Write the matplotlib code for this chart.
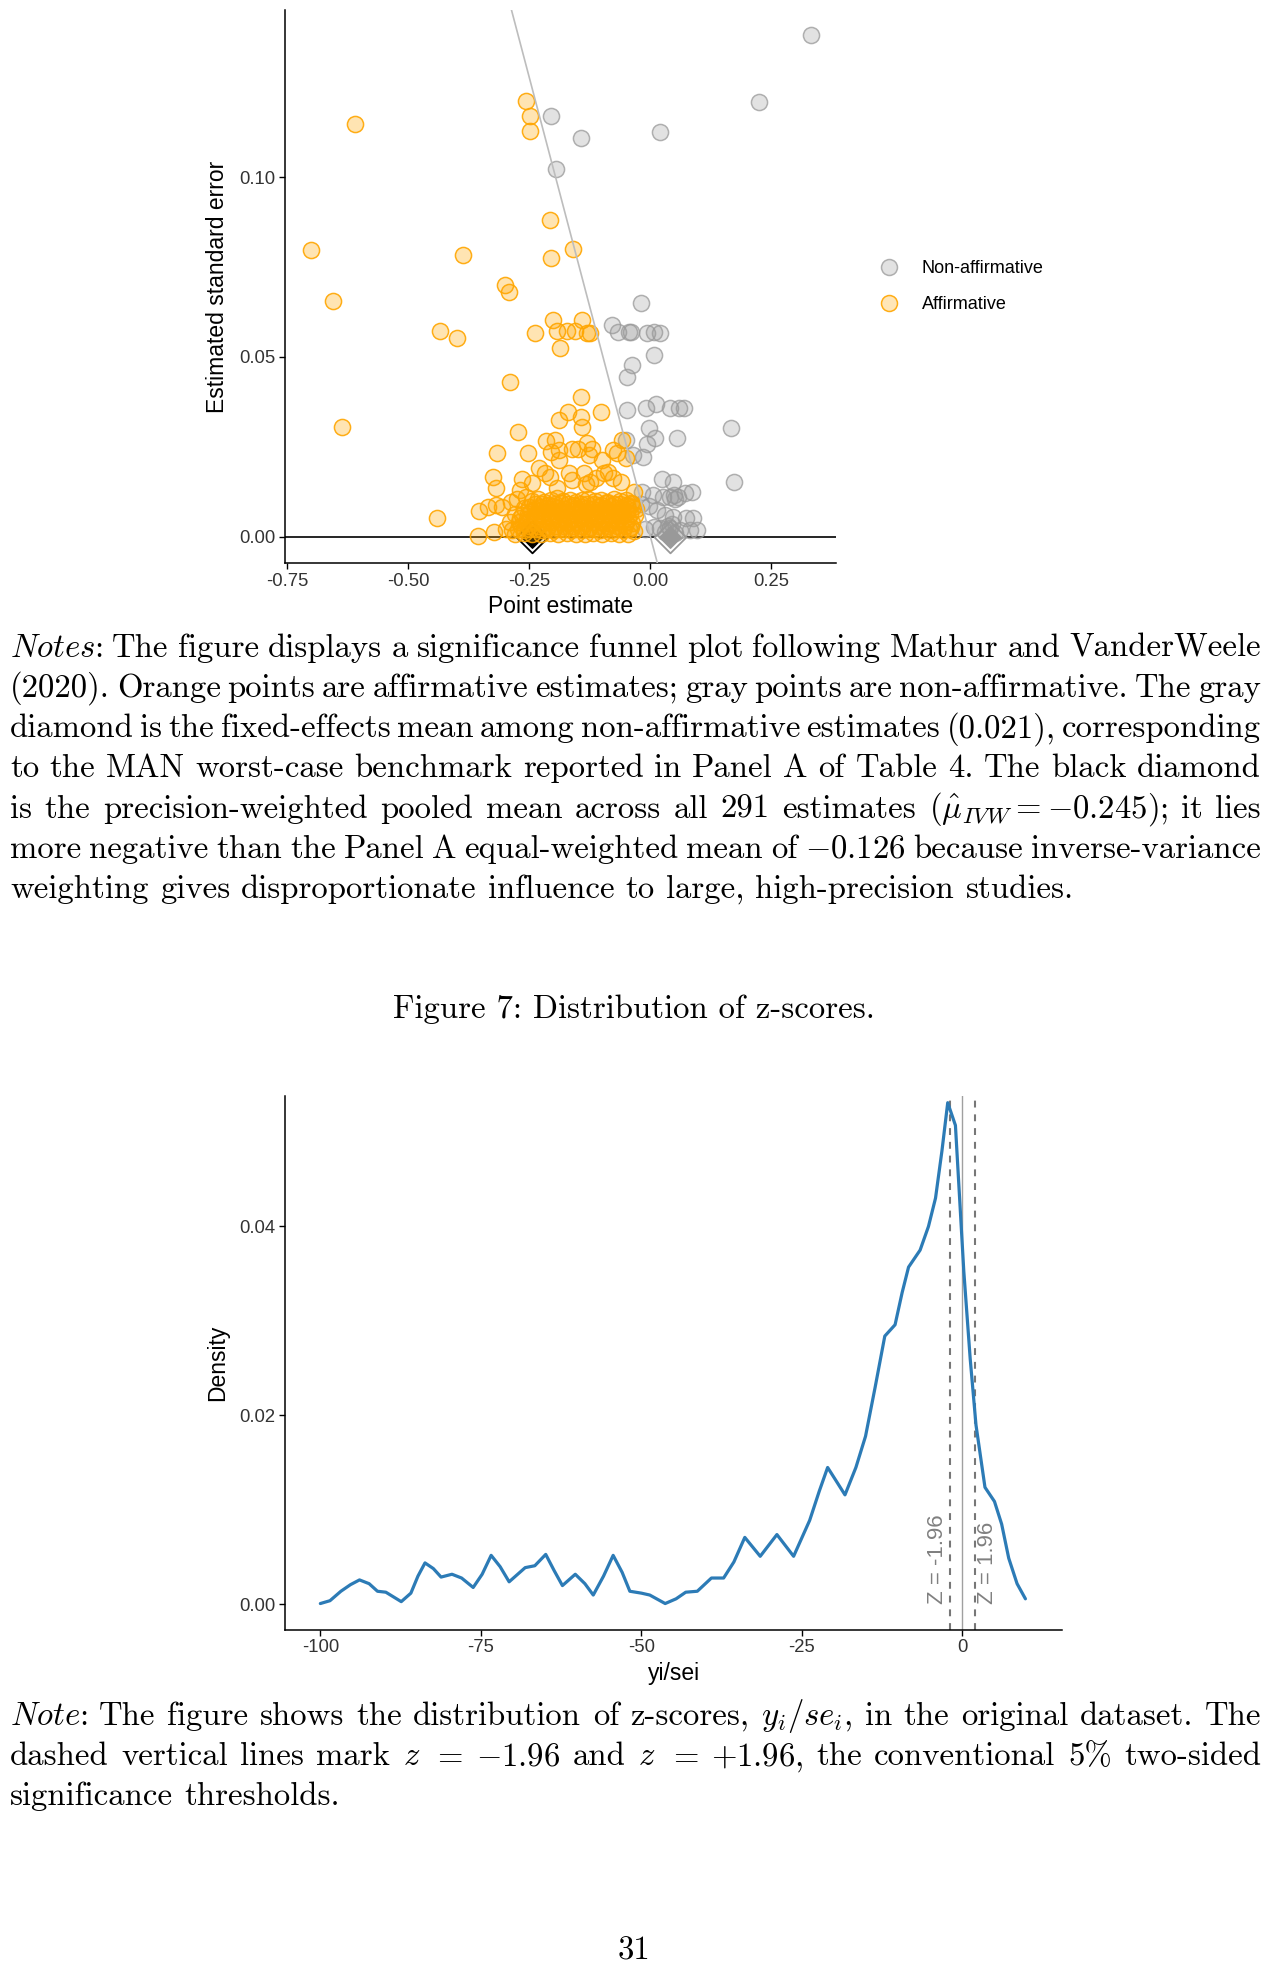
"""Page 31: significance funnel plot (top) and distribution of z-scores (bottom)."""
import numpy as np
import matplotlib
matplotlib.use("Agg")
import matplotlib.pyplot as plt
from matplotlib.lines import Line2D
from matplotlib.ticker import FixedLocator, FormatStrFormatter
from matplotlib.transforms import IdentityTransform

plt.rcParams["font.family"] = ["Liberation Sans", "DejaVu Sans"]
plt.rcParams["mathtext.fontset"] = "cm"
plt.rcParams["axes.unicode_minus"] = False

W, H = 1269, 1971

# ---- funnel plot: affirmative (orange) and non-affirmative (gray) estimates
aff_x = [-0.611, -0.702, -0.655, -0.638, -0.388, -0.434, -0.400, -0.440,
         -0.257, -0.249, -0.249, -0.208, -0.160, -0.206, -0.300, -0.293,
         -0.201, -0.141, -0.239, -0.192, -0.172, -0.155, -0.130, -0.125, -0.187,
         -0.290, -0.143, -0.171, -0.102, -0.188, -0.144, -0.141, -0.274, -0.317,
         -0.058, -0.215, -0.198, -0.205, -0.188, -0.252, -0.163, -0.150, -0.131, -0.120,
         -0.126, -0.099, -0.078, -0.068, -0.050, -0.188, -0.230, -0.217, -0.207,
         -0.168, -0.137, -0.161, -0.134, -0.096, -0.078, -0.061, -0.087, -0.113,
         -0.326, -0.320, -0.265, -0.270, -0.193, -0.125, -0.033, -0.245,
         -0.354, -0.336, -0.320, -0.306, -0.289, -0.275, -0.258,
         -0.245, -0.232, -0.219, -0.206, -0.193, -0.180, -0.167, -0.154, -0.141,
         -0.128, -0.115, -0.102, -0.089, -0.076, -0.063, -0.050, -0.040,
         -0.262, -0.250, -0.238, -0.226, -0.214, -0.202, -0.190, -0.178, -0.166,
         -0.154, -0.142, -0.130, -0.118, -0.106, -0.094, -0.082, -0.070, -0.058,
         -0.046, -0.036, -0.030,
         -0.280, -0.266, -0.252, -0.238, -0.224, -0.210, -0.196, -0.182, -0.168,
         -0.154, -0.140, -0.126, -0.112, -0.098, -0.084, -0.070, -0.056, -0.042, -0.032,
         -0.290, -0.272, -0.255, -0.238, -0.221, -0.204, -0.187, -0.170, -0.153,
         -0.136, -0.119, -0.102, -0.085, -0.068, -0.051, -0.038,
         -0.356, -0.323, -0.298, -0.285, -0.273, -0.261, -0.249, -0.237, -0.225,
         -0.213, -0.201, -0.189, -0.177, -0.165, -0.153, -0.141, -0.129, -0.117,
         -0.105, -0.093, -0.081, -0.069, -0.057, -0.045, -0.033,
         -0.280, -0.262, -0.244, -0.226, -0.208, -0.190, -0.172, -0.154, -0.136,
         -0.118, -0.100, -0.082, -0.064, -0.046,
         -0.238, -0.224, -0.211, -0.197, -0.184, -0.170, -0.157, -0.143, -0.130,
         -0.116, -0.103, -0.089, -0.076, -0.062, -0.049, -0.037,
         -0.246, -0.231, -0.217, -0.203, -0.188, -0.174, -0.160, -0.146, -0.132,
         -0.118, -0.104, -0.090, -0.076, -0.062, -0.048,
         -0.270, -0.254, -0.238, -0.222, -0.206, -0.190, -0.174, -0.158, -0.142,
         -0.126, -0.110, -0.094, -0.078, -0.062, -0.046,
         -0.268, -0.250, -0.232, -0.214, -0.196, -0.178, -0.160, -0.142, -0.124,
         -0.106, -0.088, -0.070, -0.052, -0.040]
aff_se = [0.1147, 0.0797, 0.0655, 0.0305, 0.0782, 0.0571, 0.0552, 0.0051,
          0.1212, 0.1171, 0.1127, 0.0880, 0.0800, 0.0774, 0.0701, 0.0679,
          0.0603, 0.0603, 0.0567, 0.0571, 0.0571, 0.0571, 0.0566, 0.0566, 0.0525,
          0.0431, 0.0388, 0.0346, 0.0346, 0.0324, 0.0333, 0.0305, 0.0292, 0.0232,
          0.0269, 0.0265, 0.0269, 0.0236, 0.0241, 0.0232, 0.0245, 0.0245, 0.0260, 0.0245,
          0.0228, 0.0213, 0.0241, 0.0232, 0.0218, 0.0213, 0.0190, 0.0176, 0.0167,
          0.0176, 0.0176, 0.0157, 0.0147, 0.0176, 0.0162, 0.0153, 0.0180, 0.0162,
          0.0166, 0.0134, 0.0161, 0.0129, 0.0134, 0.0151, 0.0125, 0.0150,
          0.0072, 0.0083, 0.0088, 0.0083, 0.0097, 0.0105, 0.0110,
          0.0100, 0.0104, 0.0097, 0.0102, 0.0108, 0.0099, 0.0103, 0.0096, 0.0101,
          0.0105, 0.0098, 0.0102, 0.0096, 0.0104, 0.0099, 0.0101, 0.0095,
          0.0080, 0.0083, 0.0078, 0.0082, 0.0079, 0.0084, 0.0080, 0.0077, 0.0082,
          0.0079, 0.0083, 0.0080, 0.0078, 0.0082, 0.0080, 0.0084, 0.0079, 0.0081,
          0.0078, 0.0082, 0.0076,
          0.0062, 0.0060, 0.0064, 0.0061, 0.0063, 0.0059, 0.0062, 0.0064, 0.0060,
          0.0063, 0.0061, 0.0062, 0.0060, 0.0064, 0.0061, 0.0063, 0.0060, 0.0062, 0.0059,
          0.0040, 0.0042, 0.0038, 0.0041, 0.0039, 0.0042, 0.0040, 0.0038, 0.0041,
          0.0039, 0.0042, 0.0040, 0.0038, 0.0041, 0.0040, 0.0039,
          0.0002, 0.0013, 0.0020, 0.0019, 0.0021, 0.0018, 0.0020, 0.0022, 0.0019,
          0.0021, 0.0018, 0.0020, 0.0022, 0.0019, 0.0021, 0.0018, 0.0020, 0.0022,
          0.0019, 0.0021, 0.0018, 0.0020, 0.0019, 0.0021, 0.0017,
          0.0008, 0.0009, 0.0007, 0.0008, 0.0010, 0.0007, 0.0009, 0.0008, 0.0007,
          0.0009, 0.0008, 0.0010, 0.0007, 0.0008,
          0.0090, 0.0092, 0.0089, 0.0091, 0.0093, 0.0090, 0.0088, 0.0092, 0.0090,
          0.0091, 0.0089, 0.0093, 0.0090, 0.0092, 0.0089, 0.0091,
          0.0070, 0.0071, 0.0069, 0.0072, 0.0070, 0.0068, 0.0071, 0.0070, 0.0072,
          0.0069, 0.0071, 0.0070, 0.0068, 0.0071, 0.0069,
          0.0051, 0.0050, 0.0052, 0.0049, 0.0051, 0.0050, 0.0052, 0.0049, 0.0051,
          0.0050, 0.0052, 0.0050, 0.0049, 0.0051, 0.0050,
          0.0030, 0.0029, 0.0031, 0.0028, 0.0030, 0.0029, 0.0031, 0.0030, 0.0028,
          0.0030, 0.0031, 0.0029, 0.0030, 0.0028]

non_x = [0.332, 0.224, -0.205, -0.143, 0.020, -0.195,
         -0.020, -0.080, -0.066, -0.044, -0.040, -0.008, 0.007, 0.020,
         0.008, -0.039, -0.049, -0.049, -0.010, 0.012, 0.040, 0.060, 0.070,
         -0.003, 0.010, -0.007, 0.054, 0.166, -0.051, -0.035, -0.016,
         0.023, 0.047, 0.172, -0.018, 0.006, 0.026, 0.048, 0.057, 0.071, 0.085,
         0.050, 0.040,
         0.013, 0.047, 0.074, 0.088, -0.003, -0.020, 0.030,
         0.020, 0.041, 0.061, 0.082, 0.096, 0.007, -0.012, 0.030, 0.050, 0.036, 0.045]
non_se = [0.1396, 0.1210, 0.1171, 0.1109, 0.1124, 0.1022,
          0.0651, 0.0590, 0.0570, 0.0568, 0.0568, 0.0565, 0.0570, 0.0565,
          0.0505, 0.0477, 0.0445, 0.0352, 0.0359, 0.0368, 0.0359, 0.0359, 0.0359,
          0.0301, 0.0273, 0.0259, 0.0273, 0.0301, 0.0268, 0.0226, 0.0222,
          0.0161, 0.0153, 0.0153, 0.0125, 0.0116, 0.0111, 0.0116, 0.0111, 0.0121, 0.0125,
          0.0105, 0.0110,
          0.0073, 0.0055, 0.0051, 0.0051, 0.0084, 0.0090, 0.0060,
          0.0023, 0.0023, 0.0018, 0.0018, 0.0018, 0.0027, 0.0020, 0.0012, 0.0010, 0.0030, 0.0035]

mean_nonaff = 0.040      # gray diamond, as drawn
mean_ivw = -0.245        # black diamond
z_crit = 1.96

# ---- z-score density
dens_x = [-100, -98.5, -96.8, -95.3, -93.9, -92.4, -91.1, -89.8, -88.6, -87.4,
          -85.9, -84.8, -83.7, -82.4, -81.2, -79.5, -78.0, -76.2, -74.8, -73.4,
          -72.0, -70.6, -68.1, -66.6, -64.9, -63.6, -62.3, -60.3, -58.8, -57.5,
          -55.9, -54.4, -53.0, -51.8, -50.0, -48.7, -46.3, -44.6, -43.1, -41.3,
          -39.1, -37.2, -35.6, -33.9, -31.5, -28.9, -26.3, -23.8, -22.3, -21.0,
          -19.6, -18.3, -16.6, -15.1, -13.6, -12.1, -10.5, -9.4, -8.4, -6.6,
          -5.3, -4.2, -3.2, -2.3, -1.1, 0.2, 1.2, 2.1, 3.5, 4.98,
          6.1, 7.2, 8.5, 9.8]
dens_y = [0.0001, 0.0004, 0.0014, 0.0021, 0.0026, 0.0022, 0.0014, 0.0013, 0.0008, 0.0003,
          0.0012, 0.0030, 0.0044, 0.0038, 0.0029, 0.0032, 0.0028, 0.0018, 0.0032, 0.0052,
          0.0040, 0.0024, 0.0039, 0.0041, 0.0053, 0.0036, 0.0020, 0.0032, 0.0022, 0.0010,
          0.0030, 0.0052, 0.0034, 0.0014, 0.0012, 0.0010, 0.0001, 0.0006, 0.0013, 0.0014,
          0.0028, 0.0028, 0.0045, 0.0071, 0.0051, 0.0074, 0.0051, 0.0089, 0.0120, 0.0145,
          0.0130, 0.0116, 0.0145, 0.0178, 0.0230, 0.0284, 0.0296, 0.0330, 0.0357, 0.0375,
          0.0400, 0.0430, 0.0480, 0.0531, 0.0507, 0.0353, 0.0260, 0.0190, 0.0124, 0.0109,
          0.0085, 0.0049, 0.0022, 0.0006]

# ---- page text (line breaks as typeset)
notes_lines = [
    r"$\mathit{Notes}$: The figure displays a significance funnel plot following Mathur and VanderWeele",
    r"(2020). Orange points are affirmative estimates; gray points are non-affirmative. The gray",
    r"diamond is the fixed-effects mean among non-affirmative estimates (0.021), corresponding",
    r"to the MAN worst-case benchmark reported in Panel A of Table 4. The black diamond",
    r"is the precision-weighted pooled mean across all 291 estimates ($\hat{\mu}_{IVW}=-0.245$); it lies",
    r"more negative than the Panel A equal-weighted mean of $-0.126$ because inverse-variance",
    r"weighting gives disproportionate influence to large, high-precision studies.",
]
note7_lines = [
    r"$\mathit{Note}$: The figure shows the distribution of z-scores, $y_i/se_i$, in the original dataset. The",
    r"dashed vertical lines mark $z$ $=$ $-1.96$ and $z$ $=$ $+1.96$, the conventional 5% two-sided",
    r"significance thresholds.",
]
caption7 = "Figure 7: Distribution of z-scores."
page_no = "31"

TXT = 23.6      # body text size (pt)


def put_line(fig, r, line, y, justify, x0=10, x1=1261):
    words = line.split(" ")
    arts = [fig.text(0, 0, w, fontsize=TXT, family="cmr10", va="baseline",
                     ha="left", transform=IdentityTransform()) for w in words]
    widths = [a.get_window_extent(r).width for a in arts]
    if justify and len(words) > 1:
        gap = (x1 - x0 - sum(widths)) / (len(words) - 1)
    else:
        gap = TXT * 100 / 72 * 0.34
    x = x0
    for a, w in zip(arts, widths):
        a.set_position((x, H - y))
        x += w + gap


def style_axes(ax):
    for s in ("top", "right"):
        ax.spines[s].set_visible(False)
    for s in ("left", "bottom"):
        ax.spines[s].set_linewidth(1.1)
    ax.tick_params(length=4, width=1.0, color="black", labelsize=13.3,
                   labelcolor="#333333", pad=3)


fig = plt.figure(figsize=(W / 100, H / 100), dpi=100)

# --- Funnel plot
ax1 = fig.add_axes([0.2246, 0.7144, 0.4338, 0.2806])
ax1.axhline(0, color="black", lw=1.2, zorder=1)
ax1.scatter([mean_ivw], [0], marker="D", s=260, facecolor="white",
            edgecolor="black", linewidth=1.3, zorder=2)
ax1.scatter([mean_ivw], [0], marker="D", s=120, color="black", zorder=2)
ax1.scatter([mean_nonaff], [0], marker="D", s=260, facecolor="white",
            edgecolor="#9a9a9a", linewidth=1.3, zorder=2)
ax1.scatter([mean_nonaff], [0], marker="D", s=120, color="#9a9a9a", zorder=2)
ax1.scatter(non_x, non_se, s=135, facecolor=(0.6, 0.6, 0.6, 0.28),
            edgecolor=(0.6, 0.6, 0.6, 0.75), linewidth=1.1, zorder=3)
ax1.scatter(aff_x, aff_se, s=135, facecolor=(1.0, 0.65, 0.0, 0.3),
            edgecolor=(1.0, 0.65, 0.0, 0.9), linewidth=1.1, zorder=4)
ax1.axline((0, 0), (-z_crit * 0.1, 0.1), color="#bdbdbd", lw=1.2, zorder=5)
ax1.set_xlim(-0.755, 0.3825)
ax1.set_ylim(-0.0073, 0.1465)
ax1.xaxis.set_major_locator(FixedLocator([-0.75, -0.5, -0.25, 0.0, 0.25]))
ax1.yaxis.set_major_locator(FixedLocator([0.0, 0.05, 0.10]))
ax1.xaxis.set_major_formatter(FormatStrFormatter("%.2f"))
ax1.yaxis.set_major_formatter(FormatStrFormatter("%.2f"))
style_axes(ax1)
ax1.set_xlabel("Point estimate", fontsize=16.5, labelpad=4)
ax1.set_ylabel("Estimated standard error", fontsize=16.5, labelpad=7)

handles = [Line2D([], [], ls="none", marker="o", ms=11.5, mfc=(0.6, 0.6, 0.6, 0.28),
                  mec=(0.6, 0.6, 0.6, 0.75), mew=1.1),
           Line2D([], [], ls="none", marker="o", ms=11.5, mfc=(1.0, 0.65, 0.0, 0.28),
                  mec=(1.0, 0.65, 0.0, 0.9), mew=1.1)]
ax1.legend(handles, ["Non-affirmative", "Affirmative"], loc="center left",
           bbox_to_anchor=(1.052, 0.50), borderaxespad=0, frameon=False,
           fontsize=13, handlelength=2.0, handletextpad=0.8, labelspacing=1.05)

# --- z-score density
ax2 = fig.add_axes([0.2246, 0.1732, 0.6123, 0.2707])
ax2.axvline(0, color="#a0a0a0", lw=1.0)
for zc in (-z_crit, z_crit):
    ax2.axvline(zc, color="#777777", lw=1.5, dashes=(3.3, 3.3))
ax2.plot(dens_x, dens_y, color="#2c7bb6", lw=2.3, solid_joinstyle="round",
         solid_capstyle="round")
ax2.text(-z_crit - 0.3, 0.0, "Z = -1.96", rotation=90, ha="right", va="bottom",
         fontsize=16, color="#808080")
ax2.text(z_crit + 0.3, 0.0, "Z = 1.96", rotation=90, ha="left", va="bottom",
         fontsize=16, color="#808080")
ax2.set_xlim(-105.5, 15.5)
ax2.set_ylim(-0.00266, 0.0538)
ax2.xaxis.set_major_locator(FixedLocator([-100, -75, -50, -25, 0]))
ax2.yaxis.set_major_locator(FixedLocator([0.0, 0.02, 0.04]))
ax2.xaxis.set_major_formatter(FormatStrFormatter("%d"))
ax2.yaxis.set_major_formatter(FormatStrFormatter("%.2f"))
style_axes(ax2)
ax2.set_xlabel("yi/sei", fontsize=16.5, labelpad=4)
ax2.set_ylabel("Density", fontsize=16.5, labelpad=7)

# --- page text
r = fig.canvas.get_renderer()
for i, line in enumerate(notes_lines):
    put_line(fig, r, line, 656.7 + 40.2 * i, justify=i < len(notes_lines) - 1)
fig.text(634 / W, 1 - 1018 / H, caption7, fontsize=TXT, family="cmr10",
         ha="center", va="baseline")
for i, line in enumerate(note7_lines):
    put_line(fig, r, line, 1725 + 40.2 * i, justify=i < len(note7_lines) - 1)
fig.text(634 / W, 1 - 1959 / H, page_no, fontsize=TXT, family="cmr10",
         ha="center", va="baseline")

fig.savefig("out.png", dpi=100)
plt.close(fig)
